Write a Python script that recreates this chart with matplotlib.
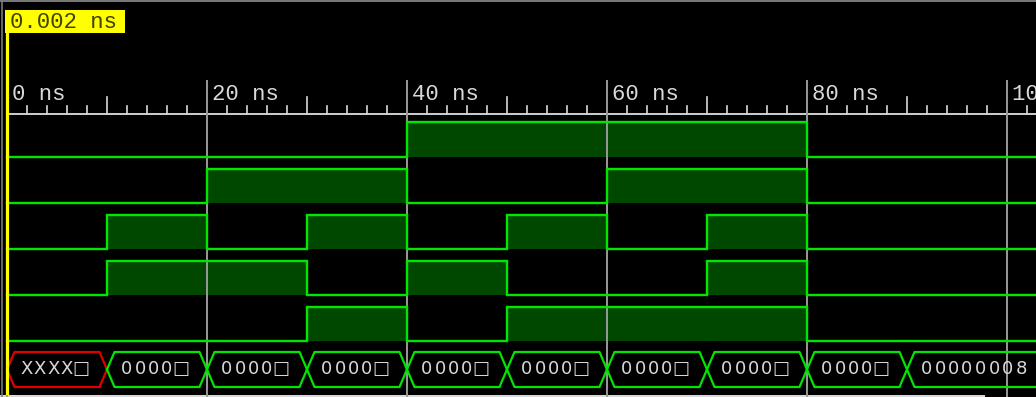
import matplotlib.pyplot as plt
from matplotlib.patches import Rectangle

# waveform data: one level per 10 ns slot, starting at 0 ns
slot_ns = 10
sig_a = [0, 0, 0, 0, 1, 1, 1, 1, 0, 0, 0]
sig_b = [0, 0, 1, 1, 0, 0, 1, 1, 0, 0, 0]
sig_c = [0, 1, 0, 1, 0, 1, 0, 1, 0, 0, 0]
sig_d = [0, 1, 1, 0, 1, 0, 0, 1, 0, 0, 0]
sig_e = [0, 0, 0, 1, 0, 1, 1, 1, 0, 0, 0]
signals = [sig_a, sig_b, sig_c, sig_d, sig_e]

# bus values, each starting at the given time
bus_times = [0, 10, 20, 30, 40, 50, 60, 70, 80, 90]
bus_values = ["XXXX\u25a1", "0000\u25a1", "0000\u25a1", "0000\u25a1", "0000\u25a1",
              "0000\u25a1", "0000\u25a1", "0000\u25a1", "0000\u25a1", "00000008"]

cursor_ns = 0.002
tick_labels = [0, 20, 40, 60, 80, 100]

W, H = 1036, 397
PX = 0.1            # ns per pixel
X0 = 7.0            # pixel column of 0 ns
t_min = -X0 * PX
t_max = (W - X0) * PX

LINE = "#00e600"
FILL = "#004800"
GRID = "#9a9a9a"
mono = "Liberation Mono"

fig = plt.figure(figsize=(W / 100, H / 100), dpi=100)
fig.patch.set_facecolor("black")
ax = fig.add_axes([0, 0, 1, 1])
ax.set_facecolor("black")
ax.set_xlim(t_min, t_max)
ax.set_ylim(H, 0)
ax.axis("off")

# frame lines
ax.plot([t_min, t_max], [1, 1], color="#909090", lw=1.2)
ax.plot([t_min + 2.5 * PX] * 2, [0, H], color="#7a7a7a", lw=1.2)
ax.add_patch(Rectangle((t_min, 394.5), 985 * PX, 3, color="#d8d8d8", lw=0))

# time ruler
axis_y = 114
ax.plot([0, t_max], [axis_y, axis_y], color="#e0e0e0", lw=1.3)
for t in range(0, 104, 2):
    if t % 20 == 0:
        ax.plot([t, t], [81, H], color=GRID, lw=1.4, zorder=3)
    elif t % 10 == 0:
        ax.plot([t, t], [97, axis_y], color="#d8d8d8", lw=1.2)
    else:
        ax.plot([t, t], [106, axis_y], color="#d8d8d8", lw=1.2)
for t in tick_labels:
    ax.text(t + 5 * PX, 100, f"{t} ns", family=mono, fontsize=16,
            color="#d8d8d8", va="baseline", ha="left")

# digital signal rows
row_hi = [122, 169, 215, 261, 307]
row_lo = [157, 203, 249, 295, 341]
for levels, hi, lo in zip(signals, row_hi, row_lo):
    xs, ys = [], []
    for i, v in enumerate(levels):
        t0 = i * slot_ns
        t1 = t_max if i == len(levels) - 1 else (i + 1) * slot_ns
        y = hi if v else lo
        xs += [t0, t1]
        ys += [y, y]
        if v:
            ax.add_patch(Rectangle((t0, hi), t1 - t0, lo - hi, color=FILL, lw=0, zorder=1))
    ax.plot(xs, ys, color=LINE, lw=1.7, zorder=4, solid_joinstyle="miter")

# bus row
b_top, b_bot = 352, 387
b_mid = (b_top + b_bot) / 2
slant = 0.75
pitch = 13.5 * PX
for i, (t0, val) in enumerate(zip(bus_times, bus_values)):
    col = "#e00000" if "X" in val else LINE
    if i < len(bus_times) - 1:
        t1 = bus_times[i + 1]
        px_ = [t0, t0 + slant, t1 - slant, t1, t1 - slant, t0 + slant, t0]
        py_ = [b_mid, b_top, b_top, b_mid, b_bot, b_bot, b_mid]
        ax.plot(px_, py_, color=col, lw=1.6, zorder=4)
    else:
        ax.plot([t_max, t0 + slant, t0, t0 + slant, t_max],
                [b_top, b_top, b_mid, b_bot, b_bot], color=col, lw=1.6, zorder=4)
    # fixed-pitch characters
    for k, ch in enumerate(val):
        ax.text(t0 + 1.95 + k * pitch, b_mid, ch, family="DejaVu Sans", fontsize=13,
                color="#d8d8d8", ha="center", va="center", zorder=5)

# cursor and its label
ax.plot([cursor_ns, cursor_ns], [33, 393], color="#ffff00", lw=2.3, zorder=6)
ax.add_patch(Rectangle((cursor_ns - 2 * PX, 10), 120 * PX, 23, color="#ffff00", lw=0, zorder=6))
ax.text(cursor_ns + 3 * PX, 28, f"{cursor_ns:.3f} ns", family=mono, fontsize=16,
        color="#404000", va="baseline", ha="left", zorder=7)

fig.savefig("out.png", dpi=100, facecolor="black")
